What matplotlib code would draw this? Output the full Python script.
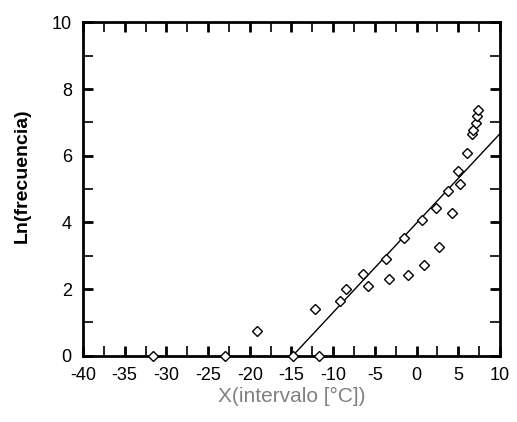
import matplotlib
matplotlib.use('Agg')
import matplotlib.pyplot as plt
import numpy as np

plt.rcParams['font.family'] = ['Liberation Sans', 'DejaVu Sans']
plt.rcParams['axes.unicode_minus'] = False

# measured points (interval temperature vs ln of frequency)
xData = [-31.65, -23.0, -19.14, -14.86, -12.18, -11.66, -9.18, -8.5, -6.4, -5.87,
         -3.71, -3.31, -1.55, -1.0, 0.65, 0.85, 2.33, 2.65, 3.8, 4.2,
         4.96, 5.16, 6.04, 6.64, 6.8, 7.08, 7.2, 7.32]
yData = [0.0, 0.0, 0.73, 0.0, 1.39, 0.0, 1.64, 1.99, 2.44, 2.10,
         2.90, 2.31, 3.53, 2.43, 4.06, 2.72, 4.44, 3.27, 4.93, 4.27,
         5.53, 5.14, 6.08, 6.65, 6.77, 6.99, 7.19, 7.36]

# fitted line
fitSlope = 0.268
fitIntercept = 3.98
fitStart = -14.86
fitEnd = 10

xTicks = [-40, -35, -30, -25, -20, -15, -10, -5, 0, 5, 10]
yTicks = [0, 2, 4, 6, 8, 10]

fig = plt.figure(figsize=(5.17, 4.22), dpi=100)
ax = fig.add_axes([0.1605, 0.157, 0.8065, 0.79])

xLine = np.array([fitStart, fitEnd])
ax.plot(xLine, fitSlope * xLine + fitIntercept, color='black', lw=1.0, zorder=2)
ax.plot(xData, yData, linestyle='none', marker='D', markersize=5.5,
        markerfacecolor='white', markeredgecolor='black', markeredgewidth=1.0,
        clip_on=False, zorder=3)

ax.set_xlim(-40, 10)
ax.set_ylim(0, 10)
ax.set_xticks(xTicks)
ax.set_yticks(yTicks)
ax.set_xticks(np.arange(-37.5, 10, 2.5), minor=True)
ax.set_yticks(np.arange(1, 10, 2), minor=True)
ax.tick_params(which='both', direction='in', top=True, right=True, length=7, labelsize=13)
ax.tick_params(which='major', width=2, pad=8)
ax.tick_params(which='minor', width=1.2)
for s in ax.spines.values():
    s.set_linewidth(2)

ax.set_xlabel('X(intervalo [°C])', fontsize=15, color='#808080', labelpad=2)
ax.set_ylabel('Ln(frecuencia)', fontsize=14, fontweight='bold')
ax.yaxis.set_label_coords(-0.125, 0.54)

plt.savefig('out.png', dpi=100)
